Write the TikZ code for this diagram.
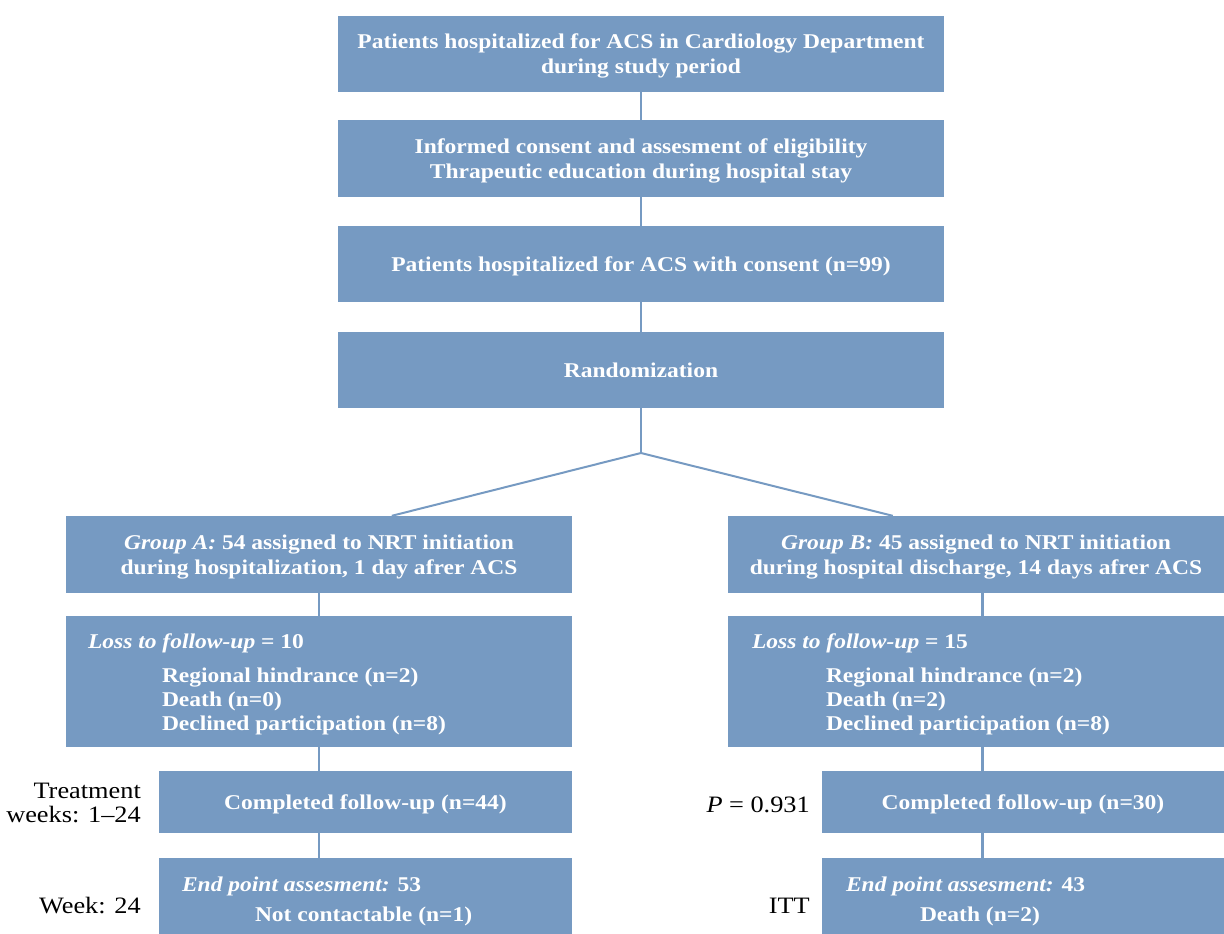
\documentclass[tikz,border=0pt]{standalone}
\usepackage{fontspec}
\setmainfont{Liberation Serif}[FakeStretch=1.12]
\definecolor{boxblue}{RGB}{118,154,194}
\begin{document}
\begin{tikzpicture}[x=1pt,y=-1pt,
  box/.style={fill=boxblue, draw=none, inner sep=0pt, text=white, align=center,
    text depth=-2pt, font=\fontsize{21}{25}\selectfont\bfseries},
  inbox/.style={text=white, inner sep=0pt, anchor=base west, align=left,
    font=\fontsize{21}{24}\selectfont\bfseries},
  side/.style={text=black, inner sep=0pt, align=right,
    font=\fontsize{23.5}{24}\selectfont},
  conn/.style={draw=boxblue, line width=2.5pt}]
\useasboundingbox (0,0) rectangle (1224,934);
% top column
\node[box, minimum width=606pt, minimum height=76pt] (b1) at (641,54)
  {Patients hospitalized for ACS in Cardiology Department\\during study period};
\node[box, minimum width=606pt, minimum height=77pt] (b2) at (641,158.5)
  {Informed consent and assesment of eligibility\\Thrapeutic education during hospital stay};
\node[box, minimum width=606pt, minimum height=76pt] (b3) at (641,264)
  {Patients hospitalized for ACS with consent (n=99)};
\node[box, minimum width=606pt, minimum height=76pt] (b4) at (641,370)
  {Randomization};
\coordinate (split) at (641,453);
% group boxes
\node[box, minimum width=506pt, minimum height=77pt] (ga) at (319,554.5)
  {\textit{Group A:} 54 assigned to NRT initiation\\during hospitalization, 1 day afrer ACS};
\node[box, minimum width=496pt, minimum height=77pt] (gb) at (976,554.5)
  {\textit{Group B:} 45 assigned to NRT initiation\\during hospital discharge, 14 days afrer ACS};
% loss boxes
\node[box, minimum width=506pt, minimum height=131pt] (la) at (319,681.5) {};
\node[box, minimum width=496pt, minimum height=131pt] (lb) at (976,681.5) {};
\node[inbox] (la1) at ([xshift=22pt,yshift=-33pt]la.north west) {\textit{Loss to follow-up} = 10};
\node[inbox] (la2) at ([xshift=96pt,yshift=-115pt]la.north west)
  {Regional hindrance (n=2)\\Death (n=0)\\Declined participation (n=8)};
\node[inbox] (lb1) at ([xshift=24pt,yshift=-33pt]lb.north west) {\textit{Loss to follow-up} = 15};
\node[inbox] (lb2) at ([xshift=98pt,yshift=-115pt]lb.north west)
  {Regional hindrance (n=2)\\Death (n=2)\\Declined participation (n=8)};
% completed boxes
\node[box, minimum width=413pt, minimum height=62pt] (ca) at (365.5,802)
  {Completed follow-up (n=44)};
\node[box, minimum width=402pt, minimum height=62pt] (cb) at (1023,802)
  {Completed follow-up (n=30)};
% end point boxes
\node[box, minimum width=413pt, minimum height=76pt] (ea) at (365.5,896) {};
\node[box, minimum width=402pt, minimum height=76pt] (eb) at (1023,896) {};
\node[inbox] (ea1) at ([xshift=23pt,yshift=-34pt]ea.north west) {\textit{End point assesment:} 53};
\node[inbox] (ea2) at ([xshift=96pt,yshift=-64pt]ea.north west) {Not contactable (n=1)};
\node[inbox] (eb1) at ([xshift=24pt,yshift=-34pt]eb.north west) {\textit{End point assesment:} 43};
\node[inbox] (eb2) at ([xshift=98pt,yshift=-64pt]eb.north west) {Death (n=2)};
% side labels
\node[side, anchor=east] (s1) at (141,803) {Treatment\\weeks: 1--24};
\node[side, anchor=base east] (s2) at (141,913) {Week: 24};
\node[side, anchor=base east] (s3) at (810,812) {\textit{P} = 0.931};
\node[side, anchor=base east] (s4) at (810,913) {ITT};
% connectors
\draw[conn] (b1.south) -- (b2.north);
\draw[conn] (b2.south) -- (b3.north);
\draw[conn] (b3.south) -- (b4.north);
\draw[conn, line width=2pt] (b4.south) -- (split);
\draw[conn, line width=2pt] (split) -- ([xshift=326pt]ga.north west);
\draw[conn, line width=2pt] (split) -- ([xshift=165pt]gb.north west);
\draw[conn] (ga.south) -- (la.north);
\draw[conn] (la.south) -- (la.south |- ca.north);
\draw[conn] (la.south |- ca.south) -- (la.south |- ea.north);
\draw[conn] ([xshift=6.5pt]gb.south) -- ([xshift=6.5pt]lb.north);
\draw[conn] ([xshift=6.5pt]lb.south) -- ([xshift=6.5pt]lb.south |- cb.north);
\draw[conn] ([xshift=6.5pt]lb.south |- cb.south) -- ([xshift=6.5pt]lb.south |- eb.north);
\end{tikzpicture}
\end{document}
